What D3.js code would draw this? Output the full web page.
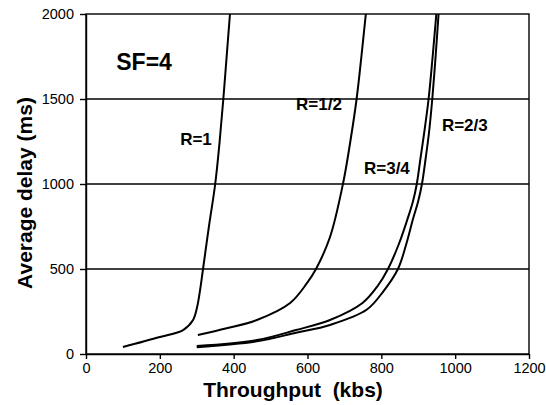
<!DOCTYPE html>
<html>
<head>
<meta charset="utf-8">
<script src="https://cdn.jsdelivr.net/npm/d3@7"></script>
<style>
body{margin:0;background:#fff;}
svg{display:block;font-family:"Liberation Sans",Arial,sans-serif;}
</style>
</head>
<body>
<svg id="chart" width="546" height="405"></svg>
<script>
// throughput (kbs) and average delay (ms)
const r1X = [100,200,263,290,301,309,317,333,350,362,372,381,390];
const r1Y = [41,100,141,200,276,376,500,750,1000,1250,1500,1750,2000];
const r12X = [303,381,463,553,599,623,661,696,716,733,746,758];
const r12Y = [112,151,200,300,418,500,688,1000,1250,1500,1750,2000];
const r34X = [300,463,569,661,749,790,818,848,870,886,896,906,916,928,939,949];
const r34Y = [47,82,141,200,300,400,500,650,788,900,1000,1150,1300,1500,1750,2000];
const r23X = [300,463,569,661,760,806,845,868,885,900,910,920,929,938,947,955];
const r23Y = [40,75,125,171,260,370,500,650,788,900,1000,1150,1300,1500,1750,2000];
const xTicks = [0,200,400,600,800,1000,1200];
const yTicks = [0,500,1000,1500,2000];
const labels = [
  {text:"R=1", x:255, y:1229},
  {text:"R=1/2", x:569, y:1435},
  {text:"R=3/4", x:753, y:1059},
  {text:"R=2/3", x:964, y:1312}
];

function drawChart(target){
    let svg = d3.select(target);
    let m = {l:86, r:17, t:14, b:51};
    let w = 546 - m.l - m.r;
    let h = 405 - m.t - m.b;
    let x = d3.scaleLinear().domain([0,1200]).range([m.l, m.l+w]);
    let y = d3.scaleLinear().domain([0,2000]).range([m.t+h, m.t]);

    // grid
    svg.append('g').selectAll('line')
    .data(yTicks.filter(d=>d>0 && d<2000))
    .join('line')
    .attr('x1', m.l).attr('x2', m.l+w)
    .attr('y1', d=>y(d)).attr('y2', d=>y(d))
    .attr('stroke','#000').attr('stroke-width',1.4);

    // frame
    svg.append('rect')
    .attr('x', m.l).attr('y', m.t).attr('width', w).attr('height', h)
    .attr('fill','none').attr('stroke','#000').attr('stroke-width',1.4);

    let xa = svg.append('g').attr('transform',`translate(0,${m.t+h})`)
    .call(d3.axisBottom(x).tickValues(xTicks).tickFormat(d3.format('d')).tickSize(5).tickSizeOuter(0).tickPadding(4));
    let ya = svg.append('g').attr('transform',`translate(${m.l},0)`)
    .call(d3.axisLeft(y).tickValues(yTicks).tickFormat(d3.format('d')).tickSize(6).tickSizeOuter(0).tickPadding(6));
    [xa, ya].forEach(a=>{
        a.select('.domain').attr('stroke','#000').attr('stroke-width',1.4);
        a.selectAll('line').attr('stroke','#000').attr('stroke-width',1.4);
        a.selectAll('text').attr('font-size',14.5).attr('fill','#000')
        .attr('font-family','"Liberation Sans",Arial,sans-serif');
    });

    // curves
    let line = d3.line().x(d=>x(d[0])).y(d=>y(d[1])).curve(d3.curveCatmullRom.alpha(0.5));
    let series = [[r1X,r1Y],[r12X,r12Y],[r34X,r34Y],[r23X,r23Y]];
    svg.append('g').selectAll('path')
    .data(series.map(s=>d3.zip(s[0], s[1])))
    .join('path')
    .attr('d', line)
    .attr('fill','none').attr('stroke','#000').attr('stroke-width',2);

    svg.append('text').attr('x', x(82)).attr('y', y(1672))
    .attr('font-size',23).attr('font-weight','bold').text('SF=4');

    svg.append('g').selectAll('text')
    .data(labels)
    .join('text')
    .attr('x', d=>x(d.x)).attr('y', d=>y(d.y))
    .attr('font-size',17).attr('font-weight','bold')
    .text(d=>d.text);

    svg.append('text')
    .attr('x', 293).attr('y', 397)
    .attr('text-anchor','middle')
    .attr('font-size',21).attr('font-weight','bold')
    .style('white-space','pre')
    .text('Throughput  (kbs)');

    svg.append('text')
    .attr('transform',`translate(32,193) rotate(-90)`)
    .attr('text-anchor','middle')
    .attr('font-size',21).attr('font-weight','bold')
    .text('Average delay (ms)');
}
drawChart('#chart');
</script>
</body>
</html>
